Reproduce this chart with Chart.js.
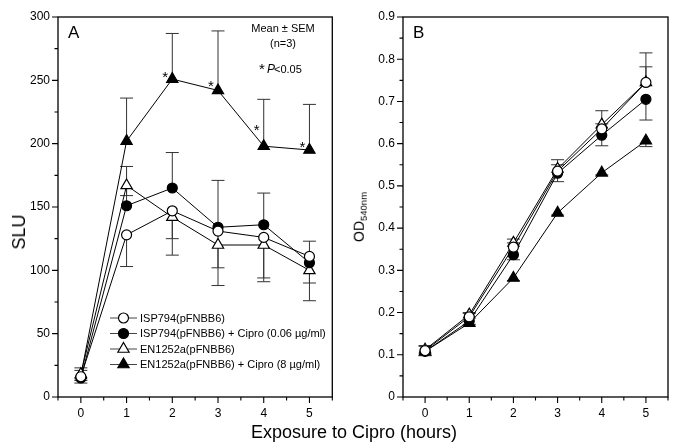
<!DOCTYPE html>
<html>
<head>
<meta charset="utf-8">
<script src="https://cdn.jsdelivr.net/npm/chart.js@4.4.1/dist/chart.umd.min.js"></script>
<style>
  body { margin: 0; background: #fff; width: 682px; height: 447px; position: relative; overflow: hidden;
         font-family: "Liberation Sans", Arial, sans-serif; color: #000; }
  #wrapA { position: absolute; left: 0; top: 0; width: 340px; height: 447px; }
  #wrapB { position: absolute; left: 340px; top: 0; width: 342px; height: 447px; }
  .lbl { position: absolute; white-space: nowrap; line-height: 1; }
  .rot { transform: translate(-50%, -50%) rotate(-90deg); }
  #sluTitle { left: 19px; top: 232px; font-size: 18px; }
  #odTitle { left: 360px; top: 217px; font-size: 14px; }
  #odTitle sub { font-size: 9.5px; vertical-align: -3px; }
  #xTitle { left: 354px; top: 437px; font-size: 18px; transform: translate(-50%, -80%); }
</style>
</head>
<body>
<div id="wrapA"><canvas id="chartA" width="340" height="447"></canvas></div>
<div id="wrapB"><canvas id="chartB" width="342" height="447"></canvas></div>
<div class="lbl rot" id="sluTitle">SLU</div>
<div class="lbl rot" id="odTitle">OD<sub>540nm</sub></div>
<div class="lbl" id="xTitle">Exposure to Cipro (hours)</div>

<script>
// ---- data ----
const hours = [0, 1, 2, 3, 4, 5];
const seriesLabels = [
  'ISP794(pFNBB6)',
  'ISP794(pFNBB6) + Cipro (0.06 µg/ml)',
  'EN1252a(pFNBB6)',
  'EN1252a(pFNBB6) + Cipro (8 µg/ml)'
];

// panel A: SLU
const sluIsp = [16, 128, 147, 131, 126, 111];
const sluIspCipro = [15, 151, 165, 134, 136, 106];
const sluEn = [18, 167, 142, 120, 120, 100];
const sluEnCipro = [17, 202, 251, 242, 198, 195];
// SEM (the figure shows one side of each bar only)
const sluIspErr = [5, 25, 22, 29, 32, 21];
const sluIspCiproErr = [6, 31, 28, 37, 25, 17];
const sluEnErr = [5, 8, 30, 32, 29, 24];
const sluEnCiproErr = [6, 34, 36, 47, 37, 36];
// where the "*" (P<0.05) marks sit, in SLU
const sigLevel = [null, null, 255, 248, 213, 200];

// panel B: OD540nm
const odIsp = [0.110, 0.190, 0.355, 0.535, 0.635, 0.745];
const odIspCipro = [0.108, 0.180, 0.337, 0.530, 0.620, 0.705];
const odEn = [0.112, 0.195, 0.365, 0.540, 0.645, 0.745];
const odEnCipro = [0.108, 0.175, 0.282, 0.436, 0.531, 0.607];
const odIspErr = [0.010, 0.008, 0.010, 0.015, 0.012, 0.037];
const odIspCiproErr = [0.010, 0.008, 0.012, 0.020, 0.025, 0.049];
const odEnErr = [0.010, 0.005, 0.009, 0.022, 0.033, 0.070];
const odEnCiproErr = [0.010, 0.007, 0.006, 0.005, 0.005, 0.014];

const FONT = '"Liberation Sans", Arial, sans-serif';

// marker styles, in legend order
const markers = [
  { style: 'circle', fill: '#fff', radius: 5 },
  { style: 'circle', fill: '#000', radius: 5 },
  { style: 'triangle', fill: '#fff', radius: 6.5 },
  { style: 'triangle', fill: '#000', radius: 6.5 }
];

function makeDataset(i, values, errs, errDir) {
  const m = markers[i];
  return {
    label: seriesLabels[i],
    data: hours.map((h, j) => ({ x: h, y: values[j] })),
    errs: errs,
    errDir: errDir,
    borderColor: '#000',
    borderWidth: 1,
    pointStyle: m.style,
    pointRadius: m.radius,
    pointBackgroundColor: m.fill,
    pointBorderColor: '#000',
    pointBorderWidth: 1.2,
    tension: 0
  };
}

function drawMarker(ctx, style, x, y, r, fill) {
  ctx.beginPath();
  if (style === 'circle') {
    ctx.arc(x, y, r, 0, Math.PI * 2);
  } else {
    for (let k = 0; k < 3; k++) {
      const a = k * 2 * Math.PI / 3;
      const px = x + Math.sin(a) * r, py = y - Math.cos(a) * r;
      if (k === 0) ctx.moveTo(px, py); else ctx.lineTo(px, py);
    }
    ctx.closePath();
  }
  ctx.fillStyle = fill;
  ctx.fill();
  ctx.lineWidth = 1.2;
  ctx.strokeStyle = '#000';
  ctx.stroke();
}

// error bars, behind the markers
const errorBars = {
  id: 'errorBars',
  beforeDatasetsDraw(chart) {
    const { ctx, scales: { x, y } } = chart;
    ctx.save();
    ctx.strokeStyle = '#333';
    ctx.lineWidth = 1;
    chart.data.datasets.forEach(ds => {
      ds.data.forEach((p, j) => {
        const e = ds.errs[j];
        const px = x.getPixelForValue(p.x);
        const y0 = y.getPixelForValue(p.y);
        const y1 = y.getPixelForValue(ds.errDir === 'up' ? p.y + e : p.y - e);
        ctx.beginPath();
        ctx.moveTo(px, y0);
        ctx.lineTo(px, y1);
        ctx.moveTo(px - 6.5, y1);
        ctx.lineTo(px + 6.5, y1);
        ctx.stroke();
      });
    });
    ctx.restore();
  }
};

// box frame plus outward major/minor ticks
const frameTicks = {
  id: 'frameTicks',
  afterDraw(chart) {
    const { ctx, chartArea: a, scales: { x, y } } = chart;
    ctx.save();
    ctx.strokeStyle = '#000';
    ctx.lineWidth = 1.3;
    ctx.strokeRect(a.left, a.top, a.right - a.left, a.bottom - a.top);
    ctx.lineWidth = 1.1;
    ctx.beginPath();
    x.ticks.forEach(t => {
      const px = x.getPixelForValue(t.value);
      const len = t.label !== '' ? 6 : 3.5;
      ctx.moveTo(px, a.bottom);
      ctx.lineTo(px, a.bottom + len);
    });
    y.ticks.forEach(t => {
      const py = y.getPixelForValue(t.value);
      const len = t.label !== '' ? 6 : 3.5;
      ctx.moveTo(a.left, py);
      ctx.lineTo(a.left - len, py);
    });
    ctx.stroke();
    ctx.restore();
  }
};

// panel letter, legend and notes
const annotations = {
  id: 'annotations',
  afterDraw(chart, args, opts) {
    const { ctx, chartArea: a, scales: { x, y } } = chart;
    ctx.save();
    ctx.fillStyle = '#000';
    ctx.textBaseline = 'alphabetic';
    ctx.font = '17px ' + FONT;
    ctx.fillText(opts.letter, a.left + 10, a.top + 21);

    if (opts.legend) {
      ctx.font = '11px ' + FONT;
      chart.data.datasets.forEach((ds, i) => {
        const ly = a.top + 301 + i * 15.5;
        const lx = a.left + 52;
        ctx.strokeStyle = '#444';
        ctx.lineWidth = 1;
        ctx.beginPath();
        ctx.moveTo(lx, ly);
        ctx.lineTo(lx + 27, ly);
        ctx.stroke();
        const m = markers[i];
        drawMarker(ctx, m.style, lx + 13.5, ly, m.radius, m.fill);
        ctx.fillStyle = '#000';
        ctx.textBaseline = 'middle';
        ctx.fillText(ds.label, lx + 30, ly + 0.5);
      });

      ctx.textAlign = 'center';
      ctx.textBaseline = 'alphabetic';
      ctx.font = '11px ' + FONT;
      ctx.fillText('Mean ± SEM', a.left + 225, a.top + 15);
      ctx.fillText('(n=3)', a.left + 225, a.top + 30);
      ctx.textAlign = 'left';
      ctx.font = '15px ' + FONT;
      ctx.fillText('*', a.left + 201, a.top + 57);
      ctx.font = 'italic 12px ' + FONT;
      ctx.fillText('P', a.left + 209, a.top + 56);
      const pw = ctx.measureText('P').width;
      ctx.font = '11px ' + FONT;
      ctx.fillText('<0.05', a.left + 209 + pw - 1, a.top + 56);

      // significance stars beside the high-dose points
      ctx.font = '15px ' + FONT;
      ctx.textAlign = 'center';
      ctx.textBaseline = 'middle';
      sigLevel.forEach((v, j) => {
        if (v === null) return;
        ctx.fillText('*', x.getPixelForValue(hours[j]) - 7, y.getPixelForValue(v) + 4);
      });
    }
    ctx.restore();
  }
};

function makeChart(canvasId, datasets, yOpts, yWidth, rightPad, opts) {
  return new Chart(document.getElementById(canvasId), {
    type: 'line',
    data: { datasets },
    options: {
      responsive: false,
      animation: false,
      devicePixelRatio: 1,
      layout: { padding: { top: 17, right: rightPad, left: 0, bottom: 0 } },
      plugins: { legend: { display: false }, tooltip: { enabled: false }, annotations: opts },
      scales: {
        x: {
          type: 'linear',
          min: -0.5,
          max: 5.5,
          grid: { display: true, drawOnChartArea: false, drawTicks: true, tickLength: 6, color: 'transparent' },
          border: { display: false },
          ticks: {
            stepSize: 0.5,
            autoSkip: false,
            maxRotation: 0,
            padding: 3,
            color: '#000',
            font: { family: FONT, size: 12 },
            callback: v => Number.isInteger(v) ? String(v) : ''
          },
          afterFit: s => { s.height = 50; }
        },
        y: Object.assign({
          type: 'linear',
          grid: { display: true, drawOnChartArea: false, drawTicks: true, tickLength: 6, color: 'transparent' },
          border: { display: false },
          afterFit: s => { s.width = yWidth; }
        }, yOpts)
      }
    },
    plugins: [errorBars, frameTicks, annotations]
  });
}

makeChart('chartA', [
  makeDataset(0, sluIsp, sluIspErr, 'down'),
  makeDataset(1, sluIspCipro, sluIspCiproErr, 'up'),
  makeDataset(2, sluEn, sluEnErr, 'down'),
  makeDataset(3, sluEnCipro, sluEnCiproErr, 'up')
], {
  min: 0,
  max: 300,
  ticks: {
    stepSize: 25,
    autoSkip: false,
    padding: 2,
    color: '#000',
    font: { family: FONT, size: 12 },
    callback: v => v % 50 === 0 ? String(v) : ''
  }
}, 58, 6, { letter: 'A', legend: true });

makeChart('chartB', [
  makeDataset(0, odIsp, odIspErr, 'up'),
  makeDataset(1, odIspCipro, odIspCiproErr, 'down'),
  makeDataset(2, odEn, odEnErr, 'up'),
  makeDataset(3, odEnCipro, odEnCiproErr, 'down')
], {
  min: 0,
  max: 0.9,
  ticks: {
    stepSize: 0.05,
    autoSkip: false,
    padding: 2,
    color: '#000',
    font: { family: FONT, size: 12 },
    callback: v => {
      const k = Math.round(v * 100);
      return k % 10 === 0 ? (k === 0 ? '0' : (k / 100).toFixed(1)) : '';
    }
  }
}, 63, 14, { letter: 'B', legend: false });
</script>
</body>
</html>
